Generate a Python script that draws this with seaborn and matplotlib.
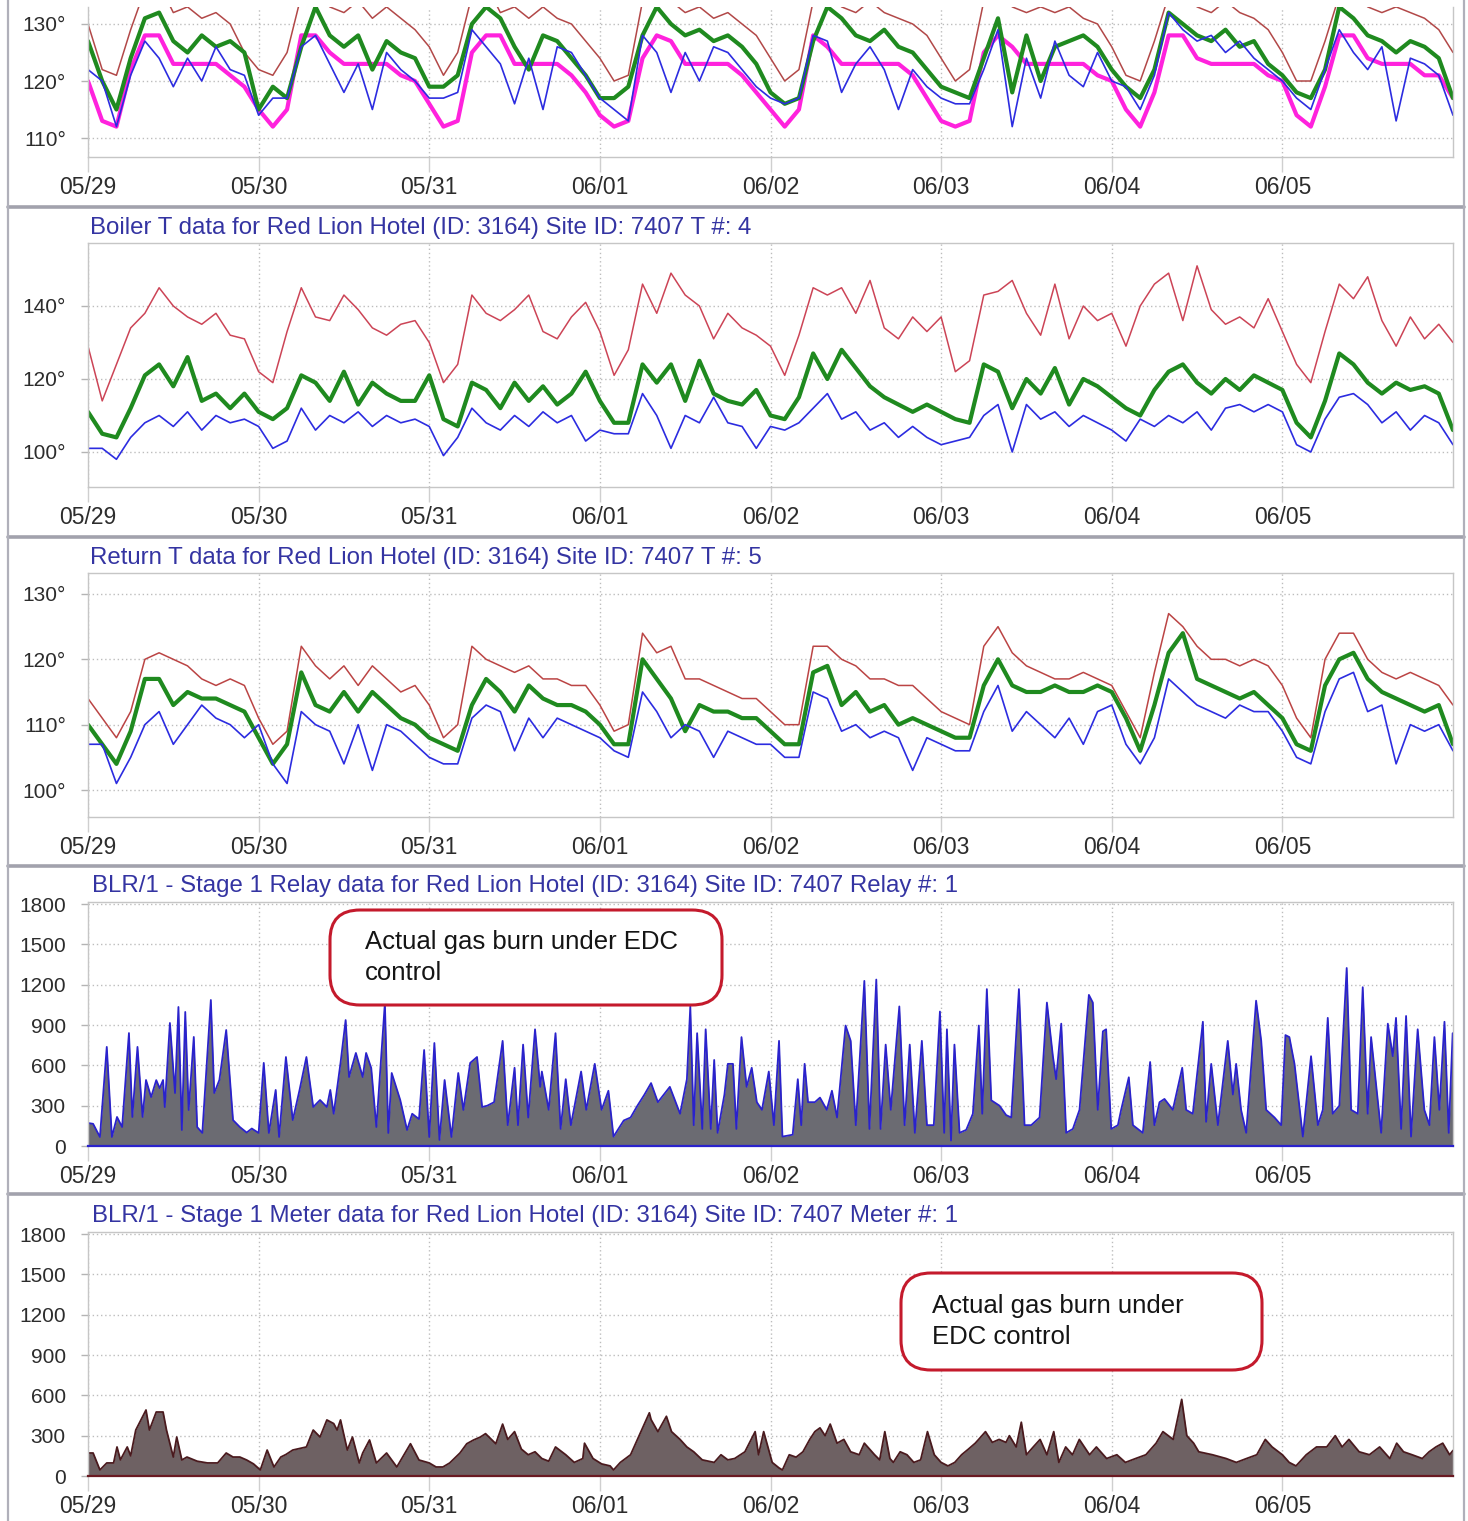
import numpy as np
import matplotlib
matplotlib.use("Agg")
import matplotlib.pyplot as plt
import seaborn as sns
from matplotlib.patches import FancyBboxPatch
from matplotlib.lines import Line2D

W, H = 1468, 1521

day_labels = ["05/29", "05/30", "05/31", "06/01", "06/02", "06/03", "06/04", "06/05"]

titles = [
    "Boiler T data for Red Lion Hotel (ID: 3164) Site ID: 7407 T #: 4",
    "Return T data for Red Lion Hotel (ID: 3164) Site ID: 7407 T #: 5",
    "BLR/1 - Stage 1 Relay data for Red Lion Hotel (ID: 3164) Site ID: 7407 Relay #: 1",
    "BLR/1 - Stage 1 Meter data for Red Lion Hotel (ID: 3164) Site ID: 7407 Meter #: 1",
]
note_relay = "Actual gas burn under EDC\ncontrol"
note_meter = "Actual gas burn under\nEDC control"

# temperature readings, every 2 hours from 05/29 00:00 (12 per day)
p1_setpoint = [
    120, 113, 112, 122, 128, 128, 123, 123, 123, 123, 121, 119,
    115, 112, 115, 128, 128, 125, 123, 123, 123, 123, 121, 120,
    116, 112, 113, 125, 128, 128, 123, 123, 123, 123, 121, 118,
    114, 112, 113, 124, 128, 127, 123, 123, 123, 123, 121, 118,
    115, 112, 115, 128, 126, 123, 123, 123, 123, 123, 121, 117,
    113, 112, 113, 125, 128, 126, 123, 123, 123, 123, 123, 121,
    120, 115, 112, 118, 128, 128, 124, 123, 123, 123, 123, 121,
    120, 114, 112, 119, 128, 128, 124, 123, 123, 123, 121, 121,
    117]
p1_supply = [
    130, 122, 121, 129, 136, 137, 132, 133, 131, 132, 130, 125,
    122, 121, 125, 135, 137, 133, 132, 134, 131, 133, 131, 129,
    126, 121, 125, 135, 137, 132, 133, 131, 133, 131, 130, 127,
    124, 120, 121, 134, 137, 134, 132, 133, 131, 132, 130, 128,
    124, 120, 122, 134, 136, 133, 132, 134, 132, 131, 130, 128,
    124, 120, 122, 134, 137, 133, 132, 133, 132, 133, 131, 130,
    126, 121, 120, 127, 135, 136, 133, 132, 134, 132, 131, 129,
    125, 120, 120, 127, 135, 136, 133, 132, 133, 132, 131, 129,
    125]
p1_average = [
    127, 120, 115, 124, 131, 132, 127, 125, 128, 126, 127, 125,
    115, 119, 117, 126, 133, 128, 126, 128, 122, 127, 125, 124,
    119, 119, 121, 130, 133, 131, 126, 122, 128, 127, 124, 121,
    117, 117, 119, 128, 133, 130, 128, 129, 127, 128, 126, 123,
    118, 116, 117, 127, 133, 131, 128, 127, 129, 126, 125, 122,
    119, 118, 117, 124, 131, 118, 128, 120, 126, 127, 128, 126,
    122, 119, 117, 122, 132, 130, 128, 127, 129, 126, 127, 123,
    121, 118, 117, 122, 133, 131, 128, 127, 125, 127, 126, 124,
    117]
p1_return = [
    122, 120, 112, 121, 127, 124, 119, 124, 120, 126, 122, 121,
    114, 117, 117, 126, 128, 123, 118, 123, 115, 125, 122, 120,
    117, 117, 118, 129, 126, 123, 116, 124, 115, 126, 125, 121,
    117, 115, 113, 128, 125, 118, 125, 120, 126, 125, 122, 119,
    117, 116, 117, 128, 127, 118, 123, 126, 122, 115, 122, 119,
    117, 116, 116, 122, 129, 112, 124, 117, 127, 121, 119, 125,
    120, 119, 115, 121, 132, 129, 127, 128, 125, 127, 124, 122,
    120, 117, 115, 122, 129, 125, 122, 126, 113, 124, 123, 121,
    114]

boiler_high = [
    129, 114, 124, 134, 138, 145, 140, 137, 135, 138, 132, 131,
    122, 119, 133, 145, 137, 136, 143, 139, 134, 132, 135, 136,
    130, 119, 124, 143, 138, 136, 139, 143, 133, 131, 137, 141,
    133, 121, 128, 146, 138, 149, 143, 140, 131, 138, 134, 132,
    129, 121, 132, 145, 143, 145, 138, 147, 134, 131, 137, 133,
    137, 122, 125, 143, 144, 147, 138, 132, 146, 131, 140, 136,
    138, 129, 140, 146, 149, 136, 151, 139, 135, 137, 134, 142,
    133, 124, 119, 133, 146, 142, 148, 136, 129, 137, 131, 135,
    130]
boiler_mid = [
    111, 105, 104, 112, 121, 124, 118, 126, 114, 116, 112, 116,
    111, 109, 112, 121, 119, 114, 122, 113, 119, 116, 114, 114,
    121, 109, 107, 119, 117, 112, 119, 114, 118, 113, 116, 122,
    114, 108, 108, 124, 119, 124, 114, 125, 116, 114, 113, 117,
    110, 109, 115, 127, 120, 128, 123, 118, 115, 113, 111, 113,
    111, 109, 108, 124, 122, 112, 120, 116, 123, 113, 120, 118,
    115, 112, 110, 117, 122, 124, 119, 116, 120, 117, 121, 119,
    117, 108, 104, 114, 127, 124, 119, 116, 119, 117, 118, 116,
    106]
boiler_low = [
    101, 101, 98, 104, 108, 110, 107, 111, 106, 110, 108, 109,
    107, 101, 103, 112, 106, 110, 108, 111, 107, 110, 108, 109,
    107, 99, 104, 112, 108, 106, 110, 107, 111, 108, 110, 103,
    106, 105, 105, 116, 110, 101, 110, 108, 115, 108, 107, 101,
    107, 106, 108, 112, 116, 109, 111, 106, 108, 104, 107, 104,
    102, 103, 104, 110, 113, 100, 113, 109, 111, 107, 110, 108,
    106, 103, 109, 107, 110, 108, 111, 106, 112, 113, 111, 113,
    111, 102, 100, 109, 115, 116, 113, 108, 111, 106, 110, 108,
    102]

return_high = [
    114, 111, 108, 112, 120, 121, 120, 119, 117, 116, 117, 116,
    111, 107, 109, 122, 119, 117, 119, 116, 119, 117, 115, 116,
    113, 108, 110, 122, 120, 119, 118, 119, 117, 117, 116, 116,
    113, 109, 110, 124, 121, 122, 117, 117, 116, 115, 114, 114,
    112, 110, 110, 122, 122, 120, 119, 117, 117, 116, 116, 114,
    112, 111, 110, 122, 125, 121, 119, 118, 117, 117, 118, 117,
    116, 112, 108, 118, 127, 125, 122, 120, 120, 119, 120, 119,
    116, 111, 108, 120, 124, 124, 120, 118, 117, 118, 117, 116,
    113]
return_mid = [
    110, 107, 104, 109, 117, 117, 113, 115, 114, 114, 113, 112,
    108, 104, 107, 118, 113, 112, 115, 112, 115, 113, 111, 110,
    108, 107, 106, 113, 117, 115, 112, 116, 114, 113, 113, 112,
    110, 107, 107, 120, 117, 114, 109, 113, 112, 112, 111, 111,
    109, 107, 107, 118, 119, 113, 115, 112, 113, 110, 111, 110,
    109, 108, 108, 116, 120, 116, 115, 115, 116, 115, 115, 116,
    115, 111, 106, 113, 121, 124, 117, 116, 115, 114, 115, 113,
    111, 107, 106, 116, 120, 121, 117, 115, 114, 113, 112, 113,
    107]
return_low = [
    107, 107, 101, 105, 110, 112, 107, 110, 113, 111, 110, 108,
    110, 104, 101, 112, 110, 109, 104, 110, 103, 110, 109, 107,
    105, 104, 104, 111, 113, 112, 106, 111, 108, 111, 110, 109,
    108, 106, 105, 115, 112, 108, 110, 109, 105, 109, 108, 107,
    107, 105, 105, 115, 114, 109, 110, 108, 109, 108, 103, 108,
    107, 106, 106, 112, 116, 109, 112, 110, 108, 111, 107, 112,
    113, 107, 104, 108, 117, 115, 113, 112, 111, 113, 112, 112,
    109, 105, 104, 112, 117, 118, 112, 113, 104, 110, 109, 110,
    106]

# relay and meter readings: day offset from 05/29 00:00 and value
relay_day = [
    0.00, 0.03, 0.07, 0.11, 0.14, 0.17, 0.20, 0.24, 0.26, 0.29,
    0.32, 0.34, 0.37, 0.40, 0.42, 0.44, 0.45, 0.48, 0.51, 0.53,
    0.55, 0.57, 0.59, 0.62, 0.64, 0.67, 0.72, 0.74, 0.77, 0.81,
    0.85, 0.89, 0.93, 0.96, 1.00, 1.03, 1.06, 1.10, 1.12, 1.16,
    1.20, 1.24, 1.28, 1.32, 1.36, 1.40, 1.42, 1.44, 1.48, 1.51,
    1.53, 1.57, 1.61, 1.63, 1.66, 1.69, 1.74, 1.76, 1.78, 1.83,
    1.87, 1.90, 1.94, 1.97, 2.00, 2.03, 2.06, 2.09, 2.13, 2.17,
    2.20, 2.24, 2.28, 2.31, 2.34, 2.38, 2.43, 2.46, 2.50, 2.52,
    2.55, 2.58, 2.62, 2.65, 2.66, 2.70, 2.74, 2.77, 2.80, 2.83,
    2.89, 2.92, 2.97, 3.01, 3.05, 3.08, 3.14, 3.18, 3.22, 3.26,
    3.30, 3.34, 3.41, 3.47, 3.51, 3.53, 3.55, 3.57, 3.60, 3.62,
    3.65, 3.67, 3.69, 3.73, 3.75, 3.78, 3.80, 3.83, 3.86, 3.89,
    3.92, 3.95, 3.99, 4.02, 4.05, 4.07, 4.13, 4.16, 4.18, 4.20,
    4.22, 4.26, 4.29, 4.33, 4.36, 4.39, 4.44, 4.47, 4.50, 4.55,
    4.58, 4.62, 4.645, 4.675, 4.705, 4.755, 4.786, 4.816, 4.846, 4.887,
    4.917, 4.957, 4.993, 5.018, 5.034, 5.058, 5.078, 5.108, 5.147, 5.186,
    5.221, 5.241, 5.268, 5.294, 5.342, 5.381, 5.411, 5.456, 5.489, 5.528,
    5.577, 5.620, 5.655, 5.674, 5.704, 5.733, 5.772, 5.811, 5.866, 5.889,
    5.918, 5.948, 5.967, 5.997, 6.036, 6.055, 6.100, 6.124, 6.182, 6.225,
    6.250, 6.280, 6.309, 6.358, 6.413, 6.436, 6.475, 6.534, 6.553, 6.583,
    6.622, 6.680, 6.710, 6.729, 6.758, 6.788, 6.846, 6.876, 6.905, 6.954,
    6.993, 7.018, 7.041, 7.071, 7.120, 7.168, 7.208, 7.237, 7.266, 7.295,
    7.334, 7.377, 7.403, 7.442, 7.471, 7.500, 7.520, 7.579, 7.618, 7.647,
    7.666, 7.696, 7.725, 7.754, 7.793, 7.832, 7.862, 7.891, 7.920, 7.950,
    7.975, 7.998]
relay_value = [
    171, 165, 67, 737, 67, 216, 141, 840, 216, 737,
    216, 491, 364, 490, 430, 491, 290, 915, 394, 1034,
    119, 997, 268, 811, 141, 97, 1086, 394, 491, 863,
    193, 141, 100, 130, 97, 618, 97, 417, 67, 662,
    193, 417, 662, 290, 342, 290, 417, 240, 618, 937,
    513, 692, 513, 692, 580, 141, 1064, 97, 543, 342,
    119, 240, 200, 714, 67, 766, 45, 491, 67, 543,
    268, 618, 662, 290, 300, 326, 782, 155, 582, 155,
    754, 212, 868, 440, 554, 269, 839, 127, 497, 155,
    554, 269, 611, 269, 411, 70, 190, 212, 300, 380,
    468, 326, 440, 240, 497, 1038, 155, 839, 127, 868,
    127, 640, 98, 383, 611, 611, 127, 810, 440, 582,
    326, 269, 554, 155, 782, 70, 84, 497, 155, 611,
    326, 326, 360, 269, 411, 212, 896, 782, 155, 1228,
    127, 1238, 127, 754, 269, 1038, 155, 754, 98, 782,
    155, 155, 1000, 98, 868, 41, 754, 98, 120, 240,
    896, 240, 1167, 340, 300, 230, 212, 1167, 155, 155,
    212, 1067, 668, 497, 910, 98, 127, 269, 1124, 1067,
    269, 853, 868, 127, 155, 269, 511, 155, 98, 625,
    155, 326, 350, 269, 582, 269, 240, 924, 180, 611,
    155, 782, 383, 611, 269, 98, 1081, 782, 269, 212,
    155, 825, 810, 611, 70, 668, 155, 269, 953, 240,
    300, 1324, 269, 240, 1181, 240, 810, 98, 910, 668,
    953, 127, 967, 70, 868, 269, 155, 810, 269, 924,
    98, 839]

meter_day = [
    0.00, 0.03, 0.07, 0.11, 0.15, 0.17, 0.19, 0.23, 0.25, 0.28,
    0.31, 0.34, 0.36, 0.40, 0.44, 0.46, 0.50, 0.52, 0.55, 0.58,
    0.64, 0.70, 0.76, 0.81, 0.85, 0.89, 0.93, 0.97, 1.01, 1.05,
    1.09, 1.13, 1.16, 1.20, 1.28, 1.32, 1.36, 1.40, 1.44, 1.46,
    1.48, 1.52, 1.55, 1.59, 1.61, 1.65, 1.69, 1.75, 1.81, 1.89,
    1.94, 2.00, 2.04, 2.08, 2.12, 2.18, 2.22, 2.26, 2.30, 2.33,
    2.39, 2.43, 2.46, 2.50, 2.54, 2.58, 2.62, 2.66, 2.70, 2.74,
    2.80, 2.85, 2.90, 2.91, 2.96, 3.01, 3.06, 3.08, 3.12, 3.18,
    3.22, 3.26, 3.29, 3.30, 3.34, 3.39, 3.42, 3.47, 3.51, 3.55,
    3.60, 3.67, 3.71, 3.75, 3.79, 3.85, 3.91, 3.93, 3.96, 4.01,
    4.05, 4.07, 4.11, 4.15, 4.19, 4.23, 4.26, 4.29, 4.32, 4.35,
    4.39, 4.43, 4.47, 4.52, 4.55, 4.61, 4.64, 4.67, 4.70, 4.72,
    4.76, 4.80, 4.84, 4.88, 4.92, 4.96, 5.00, 5.04, 5.08, 5.12,
    5.16, 5.20, 5.22, 5.26, 5.30, 5.34, 5.38, 5.40, 5.44, 5.47,
    5.50, 5.54, 5.58, 5.62, 5.66, 5.69, 5.73, 5.77, 5.81, 5.87,
    5.91, 5.97, 6.03, 6.08, 6.14, 6.20, 6.26, 6.30, 6.36, 6.41,
    6.44, 6.48, 6.51, 6.59, 6.67, 6.73, 6.79, 6.85, 6.90, 6.94,
    7.00, 7.04, 7.08, 7.14, 7.20, 7.26, 7.31, 7.35, 7.39, 7.45,
    7.51, 7.57, 7.63, 7.67, 7.71, 7.76, 7.82, 7.86, 7.90, 7.94,
    7.98, 8.00]
meter_value = [
    171, 171, 45, 97, 97, 216, 120, 216, 150, 342,
    417, 491, 342, 476, 476, 342, 141, 290, 119, 141,
    110, 97, 97, 171, 141, 141, 119, 90, 45, 193,
    67, 141, 160, 193, 216, 342, 290, 417, 390, 342,
    417, 193, 290, 97, 171, 268, 97, 171, 67, 240,
    119, 97, 67, 67, 97, 171, 240, 268, 290, 315,
    240, 386, 272, 330, 200, 158, 180, 130, 110, 216,
    158, 101, 130, 244, 130, 90, 75, 45, 101, 158,
    272, 386, 470, 420, 330, 444, 330, 272, 216, 180,
    120, 101, 158, 120, 130, 180, 330, 158, 330, 101,
    60, 45, 158, 140, 180, 272, 330, 358, 300, 386,
    244, 272, 180, 158, 244, 158, 120, 330, 130, 101,
    180, 158, 101, 120, 330, 158, 101, 75, 101, 158,
    200, 244, 272, 330, 250, 272, 250, 300, 216, 400,
    158, 216, 272, 158, 330, 101, 216, 158, 272, 158,
    216, 130, 158, 101, 130, 158, 244, 330, 272, 570,
    300, 244, 180, 158, 130, 101, 130, 158, 272, 216,
    158, 101, 75, 158, 216, 216, 300, 216, 272, 180,
    158, 216, 130, 244, 180, 158, 130, 180, 216, 244,
    158, 190]

t_2h = np.arange(len(p1_setpoint)) / 12.0

sns.set_theme(style="white")
plt.rcParams["font.family"] = ["Liberation Sans", "DejaVu Sans"]

fig = plt.figure(figsize=(W / 100, H / 100), dpi=100)
fig.patch.set_facecolor("white")

TICK_COLOR = "#2c2c2c"
TITLE_COLOR = "#3434a2"


def make_axes(top, bottom):
    return fig.add_axes([88 / W, 1 - bottom / H, (1453 - 88) / W, (bottom - top) / H])


def style(ax, ylim, yticks, deg=True):
    ax.set_xlim(0, 8)
    ax.set_ylim(*ylim)
    ax.set_xticks(range(8))
    ax.set_xticklabels(day_labels)
    ax.set_yticks(yticks)
    ax.set_yticklabels([f"{v}°" if deg else f"{v}" for v in yticks])
    ax.set_axisbelow(True)
    ax.grid(True, color="#bdbdbd", linestyle=(0, (1, 2)), linewidth=1.0)
    for s in ax.spines.values():
        s.set_color("#c6c6c6")
        s.set_linewidth(1.0)
    ax.tick_params(axis="x", bottom=True, length=11, width=1, color="#cfcfcf",
                   pad=3, labelsize=16.5, labelcolor=TICK_COLOR)
    ax.tick_params(axis="y", left=True, length=5, width=1, color="#b4b4b4",
                   pad=11, labelsize=15, labelcolor=TICK_COLOR)
    ax.set_xlabel("")
    ax.set_ylabel("")


# panel 1: temperatures (top cut off)
ax1 = make_axes(7, 157)
sns.lineplot(x=t_2h, y=p1_setpoint, ax=ax1, color="#ff22dd", linewidth=3.0)
sns.lineplot(x=t_2h, y=p1_supply, ax=ax1, color="#b24848", linewidth=1.1)
sns.lineplot(x=t_2h, y=p1_average, ax=ax1, color="#1f8a1f", linewidth=3.0)
sns.lineplot(x=t_2h, y=p1_return, ax=ax1, color="#2c2ce0", linewidth=1.2)
style(ax1, (106.67, 132.98), [110, 120, 130])
ax1.spines["top"].set_visible(False)

# panel 2: boiler
ax2 = make_axes(243, 487)
sns.lineplot(x=t_2h, y=boiler_high, ax=ax2, color="#cc4456", linewidth=1.1)
sns.lineplot(x=t_2h, y=boiler_mid, ax=ax2, color="#1f8a1f", linewidth=3.0)
sns.lineplot(x=t_2h, y=boiler_low, ax=ax2, color="#2c2ce0", linewidth=1.2)
style(ax2, (90.41, 157.26), [100, 120, 140])

# panel 3: return
ax3 = make_axes(573, 817)
sns.lineplot(x=t_2h, y=return_high, ax=ax3, color="#bb4444", linewidth=1.1)
sns.lineplot(x=t_2h, y=return_mid, ax=ax3, color="#1f8a1f", linewidth=3.0)
sns.lineplot(x=t_2h, y=return_low, ax=ax3, color="#2c2ce0", linewidth=1.2)
style(ax3, (95.87, 133.21), [100, 110, 120, 130])

# panel 4: relay
ax4 = make_axes(902, 1146)
ax4.fill_between(relay_day, 0, relay_value, color="#6b6b72", linewidth=0)
sns.lineplot(x=relay_day, y=relay_value, ax=ax4, color="#2a22cc", linewidth=1.3)
style(ax4, (0, 1815), list(range(0, 1801, 300)), deg=False)
ax4.spines["bottom"].set_color("#2a22cc")
ax4.spines["bottom"].set_linewidth(1.6)

# panel 5: meter
ax5 = make_axes(1232, 1476)
ax5.fill_between(meter_day, 0, meter_value, color="#6e6163", linewidth=0)
sns.lineplot(x=meter_day, y=meter_value, ax=ax5, color="#4a1a1e", linewidth=1.3)
style(ax5, (0, 1815), list(range(0, 1801, 300)), deg=False)
ax5.spines["bottom"].set_color("#6a1a22")
ax5.spines["bottom"].set_linewidth(1.6)

# panel titles
for (tx, ty), txt in zip([(90, 228), (90, 558), (92, 886), (92, 1216)], titles):
    fig.text(tx / W, 1 - ty / H, txt, color=TITLE_COLOR, fontsize=17.3,
             ha="left", va="center")

# callout boxes
for (bx0, by0, bx1, by1), (tx, ty), txt in [
    ((330, 910, 722, 1005), (365, 957.5), note_relay),
    ((901, 1273, 1262, 1370), (932, 1321.5), note_meter),
]:
    box = FancyBboxPatch((bx0 / 100, (H - by1) / 100), (bx1 - bx0) / 100, (by1 - by0) / 100,
                         boxstyle="round,pad=0,rounding_size=0.3",
                         transform=fig.dpi_scale_trans, facecolor="white",
                         edgecolor="#c41a2c", linewidth=2.2, zorder=5)
    fig.add_artist(box)
    fig.text(tx / W, 1 - ty / H, txt, fontsize=18.5, color="#151515",
             ha="left", va="center", linespacing=1.4, zorder=6)

# panel frames
for yy in [207, 537, 866, 1194]:
    fig.add_artist(Line2D([8 / W, 1464 / W], [1 - yy / H, 1 - yy / H],
                          transform=fig.transFigure, color="#a2a2ad", linewidth=2.6))
for xx in [8, 1464]:
    fig.add_artist(Line2D([xx / W, xx / W], [0, 1], transform=fig.transFigure,
                          color="#b0b0ba", linewidth=1.6))

fig.savefig("out.png", dpi=100, facecolor="white")
